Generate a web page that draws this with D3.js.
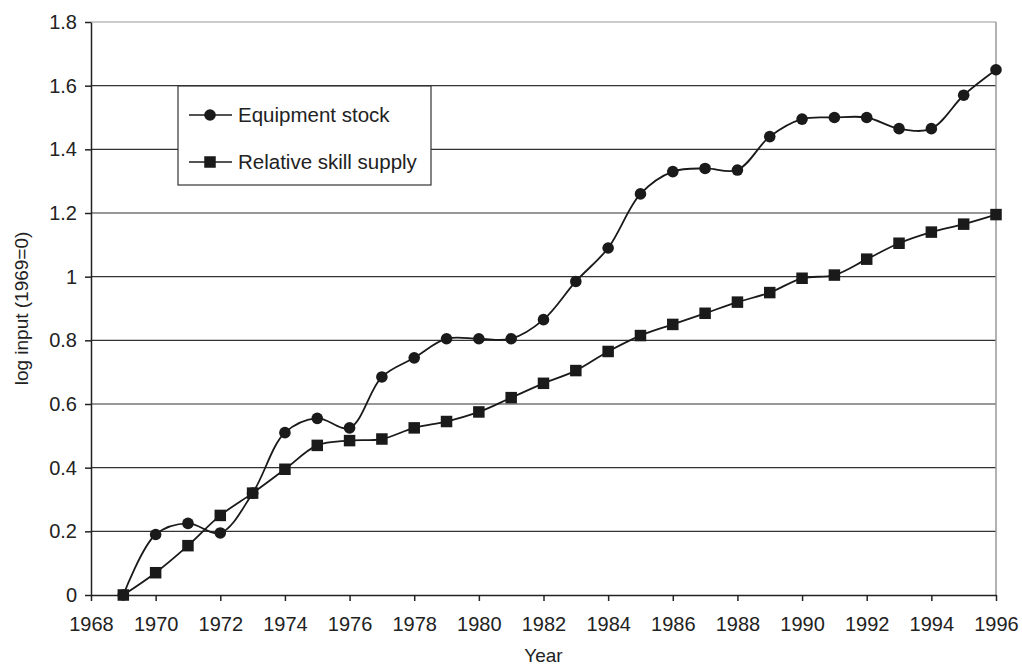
<!DOCTYPE html>
<html>
<head>
<meta charset="utf-8">
<script src="https://cdn.jsdelivr.net/npm/d3@7"></script>
<style>
  body { margin: 0; background: #fff; }
  text { font-family: "Liberation Sans", Arial, sans-serif; fill: #222; }
</style>
</head>
<body>
<div id="chart"></div>
<script>
// Years shown on the chart
const years = d3.range(1969, 1997);

// Equipment stock (circles)
const equipment = [0, 0.19, 0.225, 0.195, 0.32, 0.51, 0.555, 0.525, 0.685, 0.745,
    0.805, 0.805, 0.805, 0.865, 0.985, 1.09, 1.26, 1.33, 1.34, 1.335,
    1.44, 1.495, 1.50, 1.50, 1.465, 1.465, 1.57, 1.65];

// Relative skill supply (squares)
const skill = [0, 0.07, 0.155, 0.25, 0.32, 0.395, 0.47, 0.485, 0.49, 0.525,
    0.545, 0.575, 0.62, 0.665, 0.705, 0.765, 0.815, 0.85, 0.885, 0.92,
    0.95, 0.995, 1.005, 1.055, 1.105, 1.14, 1.165, 1.195];

const xTicks = d3.range(1968, 1997, 2);
const yTicks = [0, 0.2, 0.4, 0.6, 0.8, 1, 1.2, 1.4, 1.6, 1.8];

const width = 1022, height = 666;
const margin = { top: 22, right: 26, bottom: 71, left: 91 };

const svg = d3.select('#chart')
    .append('svg')
    .attr('width', width)
    .attr('height', height);

const x = d3.scaleLinear()
    .domain([1968, 1996])
    .range([margin.left, width - margin.right]);

const y = d3.scaleLinear()
    .domain([0, 1.8])
    .range([height - margin.bottom, margin.top]);

// Horizontal gridlines
svg.append('g')
    .selectAll('line')
    .data(yTicks.slice(1))
    .enter()
    .append('line')
    .attr('x1', x(1968))
    .attr('x2', x(1996))
    .attr('y1', d => y(d))
    .attr('y2', d => y(d))
    .attr('stroke', d => d === 1.8 ? '#999' : '#333')
    .attr('stroke-width', 1.2);

// Right border
svg.append('line')
    .attr('x1', x(1996)).attr('x2', x(1996))
    .attr('y1', y(1.8)).attr('y2', y(0))
    .attr('stroke', '#999')
    .attr('stroke-width', 1.5);

// Axes
const xAxis = svg.append('g')
    .attr('transform', `translate(0,${y(0)})`)
    .call(d3.axisBottom(x).tickValues(xTicks).tickFormat(d3.format('d')).tickSize(6).tickSizeOuter(0));

const yAxis = svg.append('g')
    .attr('transform', `translate(${x(1968)},0)`)
    .call(d3.axisLeft(y).tickValues(yTicks).tickFormat(d => String(d)).tickSize(6).tickSizeOuter(0));

[xAxis, yAxis].forEach(a => {
    a.select('.domain').attr('stroke', '#222').attr('stroke-width', 1.5);
    a.selectAll('.tick line').attr('stroke', '#222').attr('stroke-width', 1.5);
    a.selectAll('.tick text')
        .style('font-family', '"Liberation Sans", Arial, sans-serif')
        .style('font-size', '20px')
        .attr('fill', '#222');
});
xAxis.selectAll('.tick text').attr('dy', '27px');
yAxis.selectAll('.tick text').attr('x', -14);

// Axis titles
svg.append('text')
    .attr('x', (x(1968) + x(1996)) / 2)
    .attr('y', 662)
    .attr('text-anchor', 'middle')
    .style('font-size', '19px')
    .text('Year');

svg.append('text')
    .attr('transform', `translate(28,${(y(0) + y(1.8)) / 2}) rotate(-90)`)
    .attr('text-anchor', 'middle')
    .style('font-size', '19px')
    .text('log input (1969=0)');

// Lines
const line = d3.line()
    .x(d => x(d[0]))
    .y(d => y(d[1]))
    .curve(d3.curveCatmullRom.alpha(0.5));

const eqData = years.map((yr, i) => [yr, equipment[i]]);
const skData = years.map((yr, i) => [yr, skill[i]]);

svg.append('path')
    .datum(eqData)
    .attr('d', line)
    .attr('fill', 'none')
    .attr('stroke', '#1a1a1a')
    .attr('stroke-width', 1.8);

svg.append('path')
    .datum(skData)
    .attr('d', line)
    .attr('fill', 'none')
    .attr('stroke', '#1a1a1a')
    .attr('stroke-width', 1.8);

// Markers
svg.append('g')
    .selectAll('circle')
    .data(eqData)
    .enter()
    .append('circle')
    .attr('cx', d => x(d[0]))
    .attr('cy', d => y(d[1]))
    .attr('r', 5.8)
    .attr('fill', '#1a1a1a');

const sq = 11.5;
svg.append('g')
    .selectAll('rect')
    .data(skData)
    .enter()
    .append('rect')
    .attr('x', d => x(d[0]) - sq / 2)
    .attr('y', d => y(d[1]) - sq / 2)
    .attr('width', sq)
    .attr('height', sq)
    .attr('fill', '#1a1a1a');

// Legend
const legend = svg.append('g').attr('transform', 'translate(178,86)');
legend.append('rect')
    .attr('width', 253)
    .attr('height', 99)
    .attr('fill', '#fff')
    .attr('stroke', '#333')
    .attr('stroke-width', 1.2);

const items = [
    { label: 'Equipment stock', shape: 'circle', yy: 29 },
    { label: 'Relative skill supply', shape: 'square', yy: 76 }
];
items.forEach(it => {
    legend.append('line')
        .attr('x1', 11).attr('x2', 54)
        .attr('y1', it.yy).attr('y2', it.yy)
        .attr('stroke', '#1a1a1a')
        .attr('stroke-width', 1.5);
    if (it.shape === 'circle') {
        legend.append('circle').attr('cx', 32).attr('cy', it.yy).attr('r', 5.8).attr('fill', '#1a1a1a');
    } else {
        legend.append('rect').attr('x', 32 - sq / 2).attr('y', it.yy - sq / 2)
            .attr('width', sq).attr('height', sq).attr('fill', '#1a1a1a');
    }
    legend.append('text')
        .attr('x', 60)
        .attr('y', it.yy + 7)
        .style('font-size', '20.5px')
        .text(it.label);
});
</script>
</body>
</html>
